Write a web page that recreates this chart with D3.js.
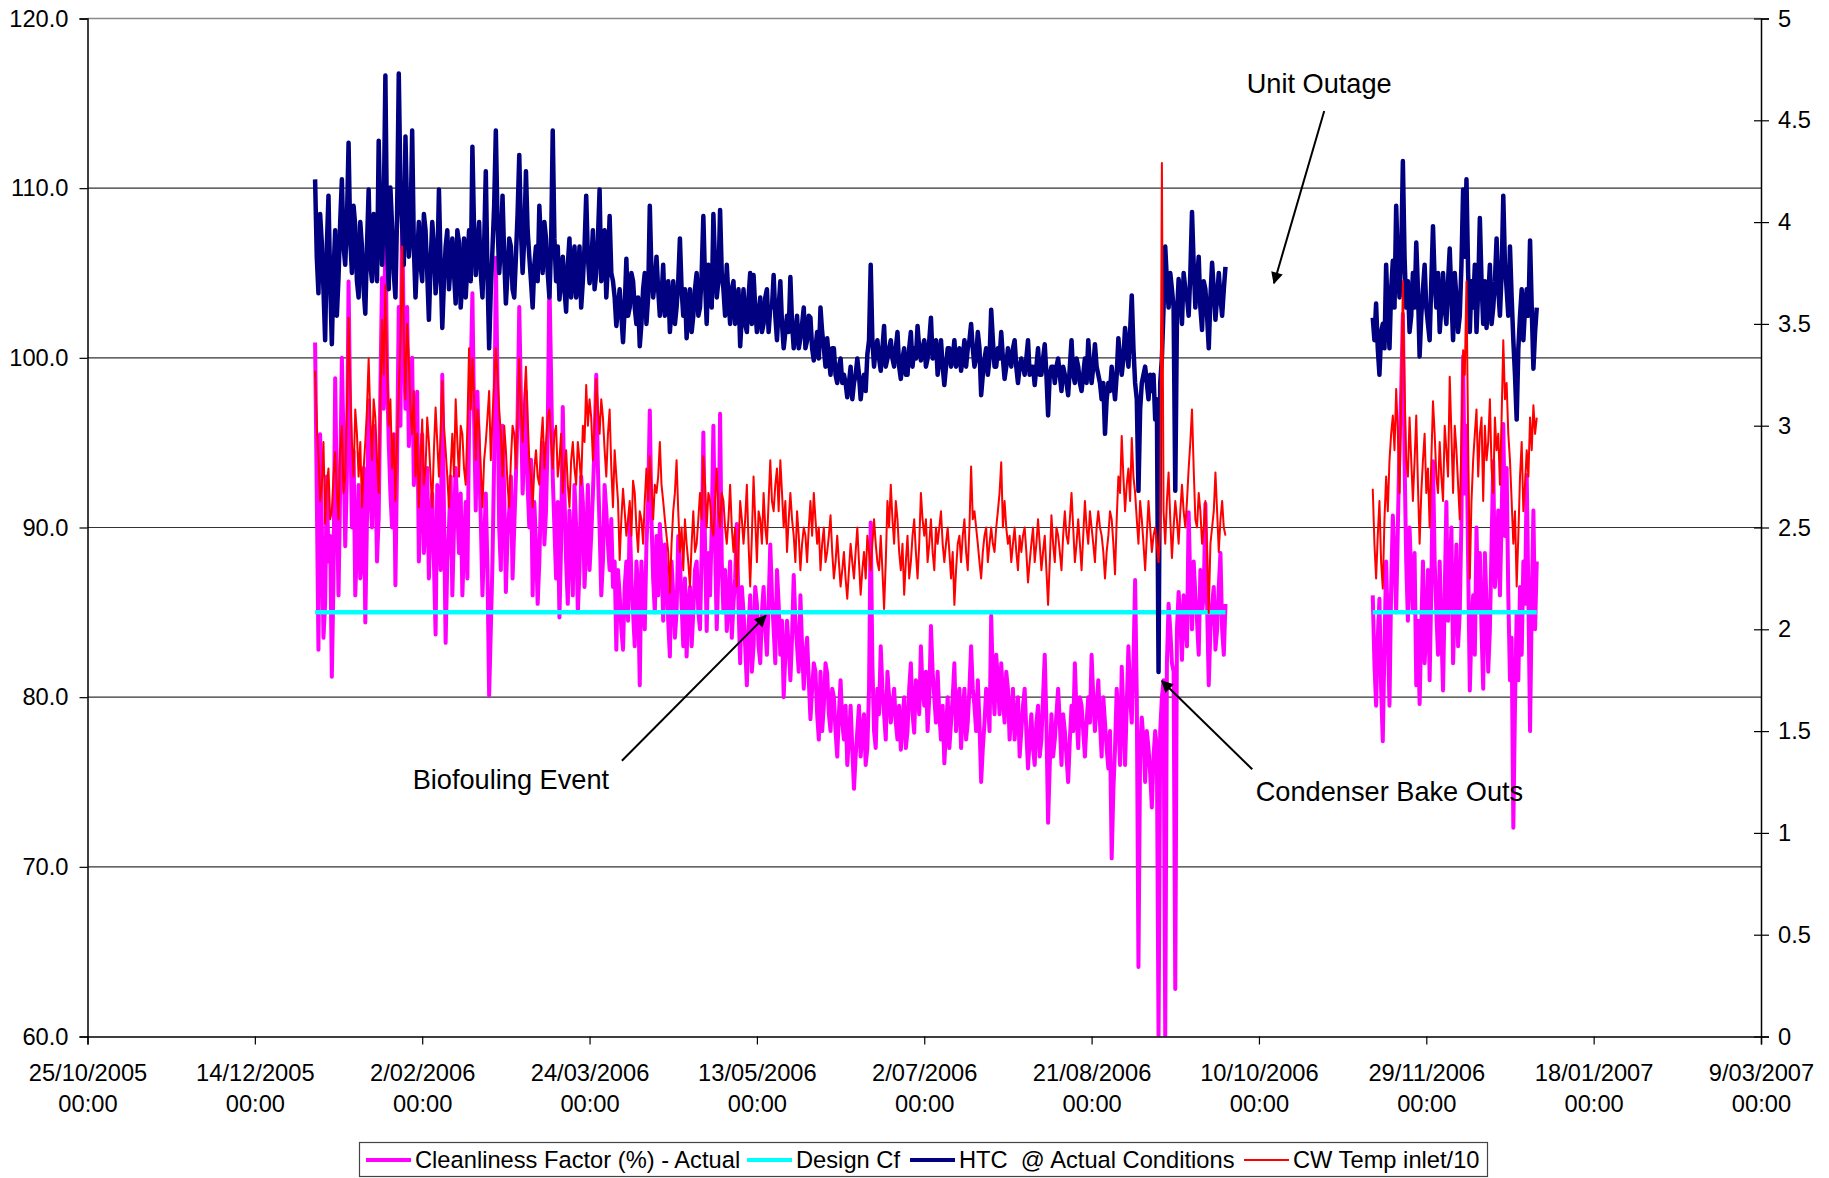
<!DOCTYPE html>
<html>
<head>
<meta charset="utf-8">
<script src="https://cdn.jsdelivr.net/npm/d3@7"></script>
<style>
  body { margin: 0; background: #fff; }
  text { font-family: Arial, "Liberation Sans", sans-serif; }
</style>
</head>
<body>
<svg id="chart" width="1829" height="1178"></svg>
<script>
// ---- Data: readings at 00:00 and 12:00 each day, two operating periods around the unit outage ----
const period1Start = "2006-01-01";
const period2Start = "2006-11-13";

// Cleanliness Factor (%) - Actual, left axis
const cleanliness1At0000 = [
100.9,82.8,90.2,85.5,88.0,81.2,98.8,86.0,100.0,88.9,104.5,
90.0,86.0,92.5,88.0,84.4,97.5,90.0,93.5,90.6,104.7,
108.2,95.0,90.0,86.6,103.0,108.9,97.0,94.8,100.0,95.0,
88.0,95.5,90.0,87.0,92.0,83.7,90.0,99.0,83.2,90.0,
86.0,93.5,88.5,86.0,91.5,96.0,103.8,91.0,94.0,86.0,
92.0,80.1,88.0,105.9,90.0,96.0,86.2,91.0,87.0,93.0,
103.0,92.0,98.0,90.0,86.0,89.0,88.0,95.0,91.0,104.7,
93.0,87.0,84.7,97.1,88.0,91.0,86.0,90.0,87.5,91.5,
89.0,87.5,92.0,99.0,90.0,88.0,91.0,87.5,86.5,82.8,
86.0,82.8,88.0,90.6,85.0,88.0,80.7,85.5,89.0,96.9,
87.0,89.5,90.2,84.5,87.0,82.4,86.0,85.0,88.0,83.0,
82.4,86.5,85.0,88.0,84.0,95.6,83.9,86.0,96.0,84.0,
96.7,85.0,83.9,88.0,85.5,90.2,82.0,85.0,80.7,86.0,
83.0,85.5,82.0,86.5,82.5,89.0,84.0,87.5,82.5,80.0,
84.5,81.0,87.2,83.0,86.0,80.5,83.5,78.7,82.0,79.0,
81.5,79.5,81.4,78.0,80.0,76.5,81.0,77.5,76.0,79.5,
74.6,78.0,76.5,79.0,77.0,90.3,78.0,80.5,83.0,79.0,
81.5,78.5,80.5,77.5,76.9,80.0,78.0,82.0,77.9,80.5,
83.0,79.5,78.0,84.2,80.0,81.5,77.5,76.1,80.0,78.5,
82.0,79.5,77.0,80.5,78.5,83.0,79.5,81.0,75.0,78.5,
80.0,84.8,79.0,81.0,82.0,78.5,80.5,79.0,77.5,80.0,
78.0,80.5,75.8,79.0,76.0,79.5,77.5,82.5,72.6,79.0,
77.5,80.5,76.0,78.0,75.0,79.5,82.0,77.0,79.5,76.5,
80.0,82.5,78.0,81.0,76.5,78.5,75.8,70.5,77.0,78.8,
81.8,76.0,83.0,78.5,86.9,64.1,78.8,75.0,77.0,73.5,
78.0,60.0,80.0,60.0,85.5,82.0,62.8,86.2,82.2,84.5,
90.9,84.0,86.0,82.5,85.0,91.4,80.7,85.5,82.8,86.5,
84.0,85.5
];
const cleanliness1At1200 = [
92.0,95.5,83.5,93.0,89.5,87.0,91.5,92.5,95.0,93.0,96.5,
94.5,89.0,87.0,93.5,90.5,92.0,96.0,88.0,98.0,97.0,
99.0,92.0,95.5,94.0,96.0,101.0,103.0,97.5,92.5,98.0,
92.0,88.5,93.5,90.5,88.0,92.5,87.5,91.0,88.0,93.0,
90.0,91.0,92.0,89.0,87.0,99.0,96.5,98.0,90.5,89.0,
87.5,84.0,94.0,98.5,87.5,92.0,89.5,93.0,90.0,96.5,
97.5,94.5,92.5,94.0,91.5,85.5,92.0,89.0,95.5,99.0,
90.0,91.5,89.0,92.0,85.5,89.0,92.5,85.0,93.0,86.5,
92.5,89.5,95.0,93.5,86.0,92.5,89.0,90.5,88.0,87.5,
84.0,86.5,84.5,87.0,83.0,86.5,88.0,84.0,91.5,90.5,
85.0,86.0,88.5,89.0,84.5,88.0,83.5,89.5,85.5,87.0,
85.5,83.0,87.5,85.0,88.5,89.0,88.5,90.0,89.0,87.5,
88.0,87.5,85.5,83.5,87.0,85.5,86.5,83.0,84.0,81.5,
86.5,83.0,85.0,84.0,85.5,86.0,82.0,85.5,84.5,82.5,
83.0,83.5,84.5,81.5,83.0,82.5,81.0,80.5,81.5,77.5,
78.0,82.0,79.0,80.5,78.0,79.0,78.5,79.5,77.5,77.0,
76.5,79.5,78.0,76.0,80.5,82.0,77.0,79.0,80.5,77.5,
80.0,79.5,78.5,79.5,78.5,77.0,80.5,79.0,81.0,79.0,
80.5,81.5,80.0,81.5,78.5,79.0,79.5,78.0,77.0,80.0,
78.0,80.5,79.0,77.5,80.5,80.5,78.0,78.5,77.0,80.5,
78.0,81.0,82.5,79.0,80.0,81.5,77.5,80.5,79.0,76.5,
79.5,78.0,77.5,77.0,78.5,76.5,80.0,78.5,76.0,76.5,
79.0,78.5,79.0,76.5,77.5,78.0,79.0,80.0,78.0,78.5,
78.5,80.0,79.5,78.5,80.0,77.0,78.0,74.5,80.5,76.0,
79.0,79.5,80.0,82.0,80.0,77.0,77.5,78.0,75.5,76.5,
77.0,78.0,81.0,82.0,84.0,81.5,84.0,84.5,86.0,83.0,
86.5,88.0,84.5,87.5,86.0,85.5,84.0,86.5,84.0,88.5,
82.5
];
const cleanliness2At0000 = [
86.0,79.5,85.8,77.4,88.0,79.5,90.7,85.0,95.0,102.6,
88.0,90.0,85.0,80.7,79.6,88.0,84.0,81.0,93.9,85.0,
88.0,80.4,91.5,87.0,82.0,89.0,85.0,100.1,96.0,80.4,
86.0,90.0,88.5,80.5,85.5,84.0,93.9,88.0,86.0,96.1,
93.5,81.0,72.3,85.0,86.5,88.0,93.1,78.0,91.0,88.0
];
const cleanliness2At1200 = [
82.0,83.5,80.5,83.0,84.0,86.5,88.0,90.0,98.0,94.0,
84.5,87.0,88.5,84.5,84.0,82.0,87.5,86.5,88.0,82.5,
84.0,86.0,84.5,90.0,85.5,83.0,90.5,92.0,88.0,84.0,
82.5,85.0,84.0,88.5,81.5,89.0,86.5,91.0,90.5,89.5,
86.0,83.5,79.5,81.0,82.5,85.5,86.0,85.5,84.0
];

// Design Cf (%), left axis
const designCf = 85;

// HTC @ Actual Conditions, right axis
const htc1At0000 = [
4.21,3.65,3.90,3.42,4.13,3.40,3.96,3.73,4.21,3.79,4.39,
3.75,3.98,3.63,3.88,3.55,4.16,3.71,3.92,4.40,3.79,
4.72,3.67,3.98,3.63,4.73,3.98,4.42,3.83,4.45,3.63,
4.00,3.71,3.96,3.52,4.00,3.65,4.16,3.48,3.88,3.67,
3.92,3.60,3.90,3.71,3.63,3.96,4.37,3.74,4.00,3.63,
4.25,3.38,3.87,4.45,3.75,4.13,3.60,3.92,3.67,3.83,
4.33,3.75,4.25,3.83,3.58,3.88,4.08,3.75,3.92,3.63,
4.45,3.71,3.62,3.83,3.56,3.92,3.75,3.63,3.88,3.71,
4.13,3.70,3.96,3.75,4.16,3.83,3.63,4.03,3.71,3.49,
3.67,3.41,3.82,3.58,3.71,3.50,3.39,3.67,3.50,4.08,
3.63,3.83,3.54,3.79,3.58,3.46,3.71,3.58,3.92,3.54,
3.43,3.67,3.54,3.75,3.58,4.03,3.50,3.71,4.04,3.63,
4.06,3.67,3.79,3.50,3.71,3.54,3.39,3.67,3.46,3.75,
3.74,3.46,3.63,3.50,3.67,3.58,3.74,3.42,3.71,3.38,
3.54,3.73,3.38,3.54,3.43,3.58,3.42,3.53,3.32,3.46,
3.58,3.38,3.43,3.25,3.38,3.21,3.33,3.25,3.14,3.29,
3.21,3.33,3.13,3.25,3.35,3.79,3.29,3.42,3.27,3.49,
3.33,3.42,3.29,3.46,3.23,3.38,3.25,3.46,3.38,3.49,
3.32,3.42,3.33,3.53,3.38,3.25,3.42,3.20,3.38,3.29,
3.42,3.33,3.27,3.42,3.38,3.50,3.29,3.46,3.15,3.33,
3.25,3.57,3.29,3.38,3.46,3.23,3.38,3.29,3.42,3.21,
3.33,3.25,3.42,3.29,3.20,3.38,3.25,3.40,3.05,3.29,
3.21,3.33,3.17,3.25,3.15,3.42,3.21,3.29,3.17,3.33,
3.42,3.21,3.40,3.25,3.13,2.96,3.21,3.29,3.13,3.43,
3.25,3.48,3.29,3.64,3.21,2.68,3.21,3.29,3.13,3.17,
3.03,1.79,3.33,3.88,3.58,3.67,2.68,3.72,3.50,3.67,
3.54,4.05,3.58,3.83,3.47,3.67,3.38,3.80,3.52,3.75,
3.54,3.78
];
const htc1At1200 = [
3.83,4.04,3.67,3.88,3.71,3.75,3.54,4.00,3.88,4.00,3.92,
4.08,3.71,4.00,3.67,3.88,3.79,4.04,3.71,4.00,4.04,
3.92,4.17,3.75,4.04,4.17,3.79,4.04,3.96,3.88,3.83,
3.79,4.04,3.75,3.79,3.88,3.75,3.79,3.71,3.96,3.79,
3.75,3.96,3.58,3.92,3.79,3.71,3.96,3.88,3.75,3.88,
3.75,3.67,4.08,4.00,3.88,3.83,3.75,3.88,3.63,4.04,
3.96,3.92,3.96,3.71,3.79,3.71,3.88,4.00,3.75,3.88,
3.92,3.88,3.71,3.67,3.79,3.63,3.88,3.71,3.58,3.88,
3.83,3.79,3.67,3.92,3.71,3.96,3.79,3.75,3.63,3.58,
3.54,3.58,3.54,3.75,3.58,3.63,3.50,3.75,3.63,3.75,
3.71,3.67,3.63,3.54,3.71,3.58,3.50,3.71,3.67,3.67,
3.58,3.46,3.67,3.54,3.75,3.71,3.79,3.58,3.79,3.71,
3.75,3.54,3.63,3.67,3.50,3.67,3.54,3.50,3.63,3.50,
3.58,3.54,3.46,3.63,3.46,3.58,3.54,3.58,3.50,3.46,
3.46,3.50,3.46,3.38,3.50,3.38,3.54,3.38,3.38,3.33,
3.46,3.29,3.33,3.38,3.25,3.29,3.21,3.21,3.21,3.13,
3.25,3.25,3.21,3.17,3.42,3.42,3.38,3.33,3.38,3.29,
3.38,3.33,3.38,3.29,3.33,3.25,3.38,3.29,3.33,3.38,
3.38,3.29,3.42,3.33,3.42,3.33,3.29,3.29,3.38,3.33,
3.29,3.38,3.33,3.29,3.42,3.38,3.33,3.38,3.25,3.38,
3.33,3.42,3.29,3.33,3.33,3.29,3.33,3.38,3.29,3.29,
3.29,3.33,3.25,3.29,3.29,3.25,3.33,3.25,3.25,3.29,
3.29,3.25,3.29,3.21,3.29,3.25,3.33,3.21,3.25,3.21,
3.29,3.29,3.29,3.21,3.21,3.13,3.17,3.21,3.25,3.33,
3.33,3.38,3.46,3.38,3.13,3.08,3.25,3.21,3.25,3.25,
3.13,3.21,3.58,3.71,3.75,3.58,3.54,3.63,3.75,3.63,
3.75,3.79,3.71,3.58,3.71,3.54,3.63,3.67,3.63,3.63,
3.67
];
const htc2At0000 = [
3.53,3.60,3.25,3.50,3.79,3.38,3.81,4.08,3.63,4.30,
3.58,3.46,3.75,3.90,3.34,3.67,3.58,3.42,3.98,3.58,
3.46,3.75,3.50,3.87,3.42,3.63,3.54,4.16,4.21,3.46,
3.58,3.46,4.02,3.50,3.48,3.79,3.58,3.92,3.54,4.13,
3.67,3.88,3.42,3.03,3.54,3.42,3.67,3.91,3.28,3.58
];
const htc2At1200 = [
3.42,3.38,3.46,3.38,3.54,3.67,3.58,3.79,3.83,3.83,
3.71,3.54,3.58,3.67,3.54,3.79,3.50,3.71,3.71,3.75,
3.58,3.58,3.71,3.63,3.75,3.46,3.79,3.83,3.75,3.71,
3.79,3.67,3.71,3.71,3.63,3.50,3.71,3.67,3.75,3.79,
3.54,3.63,3.25,3.38,3.67,3.58,3.54,3.58,3.46
];

// CW Temp inlet / 10, right axis
const cwTemp1At0000 = [
3.27,2.85,2.71,2.52,2.79,2.58,2.87,2.54,3.00,2.75,3.53,
2.92,3.08,2.75,2.60,2.92,3.33,2.83,3.04,2.67,3.52,
3.69,3.00,2.79,2.63,3.17,3.88,3.13,3.33,2.96,2.75,
2.60,3.03,2.79,2.92,2.60,3.09,2.75,3.22,2.88,2.60,
2.96,3.13,2.75,2.96,2.71,3.38,3.33,2.83,3.00,2.60,
2.92,3.17,3.04,3.38,3.08,2.75,2.88,2.60,3.00,2.79,
3.33,2.92,3.29,2.83,2.60,2.88,2.71,3.04,2.92,3.08,
2.79,3.00,2.83,2.67,2.88,2.60,2.92,2.71,2.83,3.00,
3.20,3.13,2.83,3.23,2.96,3.04,2.75,3.08,2.60,2.75,
2.34,2.69,2.46,2.63,2.73,2.50,2.58,2.42,2.79,2.85,
2.54,2.67,2.92,2.63,2.46,2.18,2.58,2.83,2.38,2.29,
2.42,2.21,2.58,2.42,2.67,2.85,2.50,2.63,2.46,2.79,
2.50,2.63,2.42,2.71,2.38,2.21,2.63,2.42,2.71,2.21,
2.75,2.33,2.54,2.67,2.42,2.83,2.58,2.79,2.83,2.50,
2.38,2.67,2.46,2.58,2.29,2.50,2.33,2.63,2.67,2.42,
2.29,2.50,2.38,2.56,2.25,2.46,2.21,2.38,2.15,2.42,
2.25,2.50,2.17,2.38,2.46,2.29,2.54,2.33,2.46,2.10,
2.63,2.71,2.42,2.54,2.29,2.17,2.46,2.33,2.54,2.25,
2.67,2.46,2.33,2.54,2.29,2.42,2.58,2.33,2.50,2.25,
2.12,2.42,2.33,2.54,2.29,2.80,2.58,2.42,2.25,2.46,
2.33,2.50,2.38,2.58,2.82,2.63,2.42,2.33,2.50,2.29,
2.38,2.50,2.23,2.42,2.33,2.54,2.29,2.46,2.12,2.56,
2.33,2.46,2.29,2.58,2.42,2.67,2.33,2.54,2.29,2.63,
2.42,2.50,2.33,2.58,2.46,2.25,2.46,2.54,2.27,2.75,
2.95,2.58,2.79,2.94,2.67,2.42,2.54,2.29,2.63,2.38,
2.50,2.33,4.29,2.42,2.77,2.35,2.63,2.42,2.71,2.50,
2.79,3.08,2.54,2.67,2.42,2.63,2.08,2.50,2.77,2.38,
2.63,2.46
];
const cwTemp1At1200 = [
3.00,2.63,2.92,2.71,2.54,2.75,2.67,2.88,2.67,3.08,3.17,
2.75,2.96,2.92,2.79,3.08,3.04,3.13,2.83,3.13,3.25,
3.29,3.13,2.96,2.92,3.42,3.46,3.50,3.08,3.17,2.96,
2.83,2.71,3.04,2.75,2.88,2.92,2.96,3.00,2.75,2.79,
2.75,2.92,3.00,2.79,3.00,3.08,3.13,3.08,2.79,2.83,
3.04,2.83,3.21,3.25,2.96,3.00,2.71,2.83,2.96,3.04,
3.08,3.13,3.04,2.75,2.79,2.75,2.92,2.79,3.04,2.92,
2.96,2.75,2.96,2.79,2.71,2.83,2.79,2.92,2.71,2.92,
3.00,3.04,3.00,3.08,3.13,2.88,2.96,2.79,2.88,2.63,
2.54,2.58,2.54,2.46,2.67,2.38,2.54,2.63,2.63,2.71,
2.71,2.75,2.71,2.54,2.38,2.42,2.67,2.58,2.50,2.54,
2.33,2.42,2.38,2.54,2.54,2.71,2.67,2.50,2.63,2.58,
2.67,2.50,2.54,2.50,2.50,2.38,2.54,2.54,2.42,2.46,
2.54,2.58,2.42,2.50,2.63,2.63,2.71,2.58,2.67,2.63,
2.54,2.54,2.33,2.46,2.42,2.46,2.50,2.46,2.54,2.50,
2.42,2.33,2.46,2.38,2.33,2.33,2.29,2.25,2.29,2.33,
2.38,2.33,2.29,2.25,2.38,2.42,2.42,2.29,2.29,2.33,
2.50,2.54,2.63,2.38,2.42,2.33,2.25,2.46,2.38,2.42,
2.54,2.54,2.42,2.38,2.50,2.50,2.42,2.42,2.38,2.38,
2.29,2.46,2.46,2.38,2.50,2.54,2.50,2.33,2.38,2.50,
2.42,2.42,2.50,2.67,2.50,2.50,2.46,2.42,2.38,2.46,
2.46,2.38,2.33,2.50,2.42,2.42,2.38,2.29,2.33,2.42,
2.50,2.38,2.46,2.46,2.54,2.50,2.42,2.42,2.46,2.50,
2.58,2.42,2.50,2.50,2.38,2.38,2.58,2.42,2.54,2.67,
2.75,2.71,2.63,2.75,2.54,2.63,2.42,2.46,2.50,2.46,
2.42,2.50,2.58,2.63,2.54,2.50,2.54,2.58,2.58,2.63,
2.92,2.79,2.50,2.58,2.50,2.38,2.42,2.58,2.58,2.54,
2.50
];
const cwTemp2At0000 = [
2.69,2.25,2.63,2.20,2.75,2.83,3.05,3.18,2.67,3.71,
2.83,3.04,2.63,3.05,2.42,2.83,2.67,2.50,3.12,2.75,
2.92,2.63,2.88,3.24,2.67,2.88,2.54,3.37,3.71,2.25,
2.83,3.08,2.96,2.63,2.83,3.13,2.67,2.88,2.71,3.42,
3.21,2.83,2.42,2.21,2.75,2.58,2.88,3.04,3.10,3.04
];
const cwTemp2At1200 = [
2.42,2.46,2.33,2.54,2.58,2.96,2.88,2.96,3.13,3.17,
2.75,2.83,2.83,2.71,2.67,2.96,2.79,2.83,2.96,2.67,
2.75,3.00,2.75,2.96,3.00,2.71,2.92,3.25,2.92,2.63,
2.96,2.75,3.04,3.00,2.92,2.79,3.04,2.96,3.04,3.13,
2.96,2.63,2.58,2.46,2.92,2.71,2.75,2.88,2.96
];

// Axis ticks
const xTickDates = ["2005-10-25","2005-12-14","2006-02-02","2006-03-24","2006-05-13",
  "2006-07-02","2006-08-21","2006-10-10","2006-11-29","2007-01-18","2007-03-09"];
const leftTicks = [60, 70, 80, 90, 100, 110, 120];
const rightTicks = [0, 0.5, 1, 1.5, 2, 2.5, 3, 3.5, 4, 4.5, 5];

// Legend
const legendLabels = ["Cleanliness Factor (%) - Actual", "Design Cf", "HTC  @ Actual Conditions", "CW Temp inlet/10"];
const seriesColors = ["#FF00FF", "#00FFFF", "#000080", "#FF0000"];

// Annotations: [label, text anchor time, text value, arrow tail time, tail value, arrow tip time, tip value] (left-axis units)
const annotations = [
  ["Unit Outage",          "2006-10-28T00:00", 115.6, "2006-10-29T12:00", 114.55, "2006-10-14T12:00", 104.4],
  ["Biofouling Event",     "2006-02-28T12:00", 74.6,  "2006-04-02T16:00", 76.25,  "2006-05-15T16:00", 84.8],
  ["Condenser Bake Outs",  "2006-11-18T00:00", 73.9,  "2006-10-08T00:00", 75.75,  "2006-09-11T00:00", 80.95]
];

// ---- Layout ----
const plot = { left: 87.5, right: 1761, top: 18.5, bottom: 1036.5 };
const parseDay = d3.utcParse("%Y-%m-%d");
const parseTime = d3.utcParse("%Y-%m-%dT%H:%M");

const x = d3.scaleUtc()
  .domain([parseDay(xTickDates[0]), parseDay(xTickDates[xTickDates.length - 1])])
  .range([plot.left, plot.right]);
const yL = d3.scaleLinear().domain([60, 120]).range([plot.bottom, plot.top]);
const yR = d3.scaleLinear().domain([0, 5]).range([plot.bottom, plot.top]);

const svg = d3.select("#chart");
const defs = svg.append("defs");

defs.append("clipPath").attr("id", "plotClip")
  .append("rect")
  .attr("x", plot.left).attr("y", plot.top)
  .attr("width", plot.right - plot.left).attr("height", plot.bottom - plot.top);

defs.append("marker")
  .attr("id", "arrowHead").attr("viewBox", "0 0 10 10")
  .attr("refX", 9).attr("refY", 5)
  .attr("markerWidth", 7).attr("markerHeight", 6)
  .attr("markerUnits", "strokeWidth")
  .attr("orient", "auto")
  .append("path").attr("d", "M0,0 L10,5 L0,10 Z").attr("fill", "#000");

// gridlines
svg.append("g").selectAll("line")
  .data(leftTicks.filter(t => t > 60))
  .join("line")
  .attr("x1", plot.left).attr("x2", plot.right)
  .attr("y1", d => yL(d)).attr("y2", d => yL(d))
  .attr("stroke", d => d === 120 ? "#8a8a8a" : "#333")
  .attr("stroke-width", d => d === 120 ? 1.6 : 1.2);

// ---- Series ----
// merge the 00:00 and 12:00 readings of one period into a time-ordered list
function period(startStr, at0000, at1200) {
  const s = parseDay(startStr);
  const pts = [];
  at0000.forEach((v, i) => {
    const day = d3.utcDay.offset(s, i);
    pts.push({ date: day, v });
    if (i < at1200.length) pts.push({ date: d3.utcHour.offset(day, 12), v: at1200[i] });
  });
  return pts;
}
function twoPeriods(a0, a12, b0, b12) {
  return period(period1Start, a0, a12).concat([{ date: null, v: null }], period(period2Start, b0, b12));
}
function flatPeriods(value) {
  const s1 = parseDay(period1Start), s2 = parseDay(period2Start);
  return [
    { date: s1, v: value }, { date: d3.utcDay.offset(s1, cleanliness1At0000.length - 1), v: value },
    { date: null, v: null },
    { date: s2, v: value }, { date: d3.utcDay.offset(s2, cleanliness2At0000.length - 1), v: value }
  ];
}

const lineOn = yScale => d3.line()
  .defined(d => d.v != null)
  .x(d => x(d.date))
  .y(d => yScale(d.v));

const seriesDefs = [
  { data: twoPeriods(cleanliness1At0000, cleanliness1At1200, cleanliness2At0000, cleanliness2At1200), y: yL, color: seriesColors[0], width: 4 },
  { data: flatPeriods(designCf), y: yL, color: seriesColors[1], width: 4.5 },
  { data: twoPeriods(htc1At0000, htc1At1200, htc2At0000, htc2At1200), y: yR, color: seriesColors[2], width: 4.5 },
  { data: twoPeriods(cwTemp1At0000, cwTemp1At1200, cwTemp2At0000, cwTemp2At1200), y: yR, color: seriesColors[3], width: 2 }
];

const gSeries = svg.append("g").attr("clip-path", "url(#plotClip)");
seriesDefs.forEach(s => {
  gSeries.append("path")
    .attr("fill", "none")
    .attr("stroke", s.color)
    .attr("stroke-width", s.width)
    .attr("stroke-linejoin", "round")
    .attr("d", lineOn(s.y)(s.data));
});

// ---- Axes ----
const fontSize = 23.7;

const axisL = svg.append("g")
  .attr("transform", `translate(${plot.left},0)`)
  .call(d3.axisLeft(yL).tickValues(leftTicks).tickFormat(d3.format(".1f")).tickSize(8).tickPadding(11));
const axisR = svg.append("g")
  .attr("transform", `translate(${plot.right},0)`)
  .call(d3.axisRight(yR).tickValues(rightTicks).tickFormat(d => String(d)).tickSize(8).tickPadding(9));
axisR.selectAll(".tick").append("line").attr("x1", -7).attr("x2", 0);
const axisB = svg.append("g")
  .attr("transform", `translate(0,${plot.bottom})`)
  .call(d3.axisBottom(x).tickValues(xTickDates.map(parseDay)).tickSize(8).tickFormat(() => ""));

[axisL, axisR, axisB].forEach(g => {
  g.select(".domain").attr("stroke", "#000").attr("stroke-width", 1.5);
  g.selectAll(".tick line").attr("stroke", "#000").attr("stroke-width", 1.2);
  g.selectAll(".tick text").attr("fill", "#000").style("font-size", fontSize + "px")
    .style("font-family", 'Arial, "Liberation Sans", sans-serif');
});

const fmtDate = d3.utcFormat("%-d/%m/%Y");
const fmtTime = d3.utcFormat("%H:%M");
axisB.selectAll(".tick").each(function(d) {
  const t = d3.select(this).select("text");
  t.text(null).attr("y", null).attr("dy", null);
  t.append("tspan").attr("x", 0).attr("y", 44.5).text(fmtDate(d));
  t.append("tspan").attr("x", 0).attr("y", 75.5).text(fmtTime(d));
});

// ---- Annotations ----
const gAnn = svg.append("g");
annotations.forEach(([label, td, tv, ad, av, bd, bv]) => {
  gAnn.append("line")
    .attr("x1", x(parseTime(ad))).attr("y1", yL(av))
    .attr("x2", x(parseTime(bd))).attr("y2", yL(bv))
    .attr("stroke", "#000").attr("stroke-width", 2)
    .attr("marker-end", "url(#arrowHead)");
  gAnn.append("text")
    .attr("x", x(parseTime(td))).attr("y", yL(tv))
    .attr("text-anchor", "middle")
    .style("font-size", "27.2px")
    .attr("fill", "#000")
    .text(label);
});

// ---- Legend ----
const legend = svg.append("g");
legend.append("rect")
  .attr("x", 359.5).attr("y", 1142.5).attr("width", 1128).attr("height", 34)
  .attr("fill", "#fff").attr("stroke", "#444").attr("stroke-width", 1.2);
const legendX = [366, 747, 910, 1244];
const legendW = [4, 4, 4, 2];
legendLabels.forEach((lab, i) => {
  legend.append("line")
    .attr("x1", legendX[i]).attr("x2", legendX[i] + 45)
    .attr("y1", 1160).attr("y2", 1160)
    .attr("stroke", seriesColors[i]).attr("stroke-width", legendW[i]);
  legend.append("text")
    .attr("x", legendX[i] + 49).attr("y", 1168)
    .style("font-size", fontSize + "px")
    .style("white-space", "pre")
    .attr("xml:space", "preserve")
    .attr("fill", "#000")
    .text(lab);
});
</script>
</body>
</html>
